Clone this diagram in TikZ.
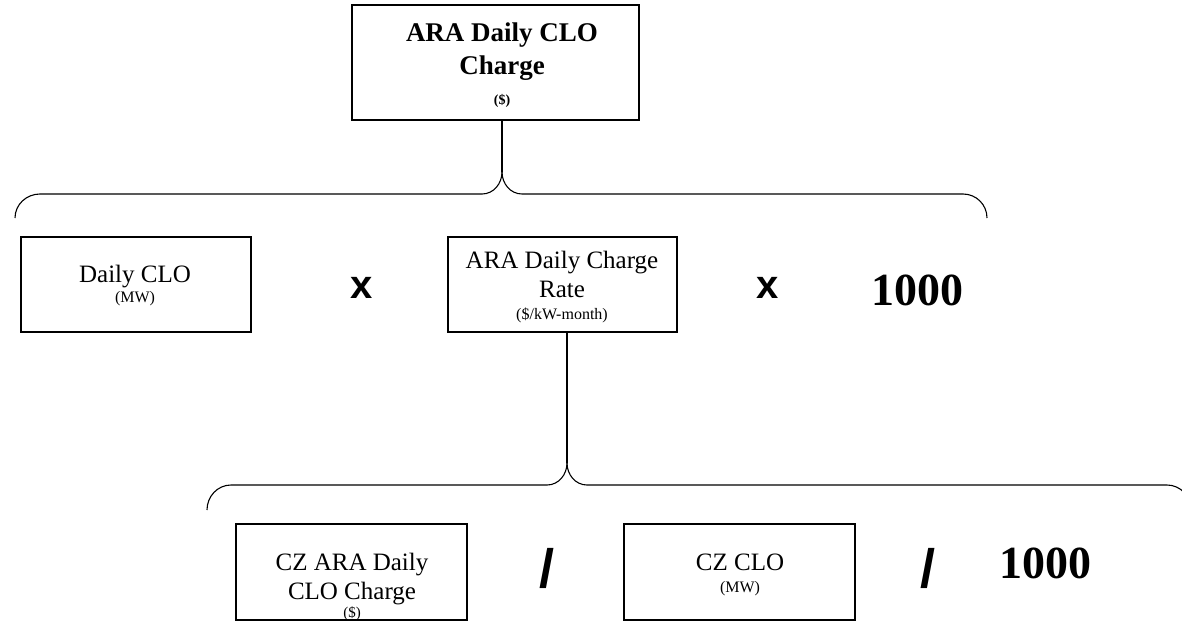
\documentclass[tikz,border=0pt]{standalone}
\usepackage{fontspec}
\setmainfont{Liberation Serif}
\newfontfamily\opfont{Liberation Sans}
\begin{document}
\begin{tikzpicture}[x=1pt,y=-1pt,
  box/.style={draw=black, line width=1.1pt, inner sep=0pt},
  txt/.style={align=center, inner sep=0pt, font=\fontsize{25}{29}\selectfont},
  ttl/.style={align=center, inner sep=0pt, font=\fontsize{27}{33}\selectfont\bfseries},
  opx/.style={inner sep=0pt, font=\fontsize{40}{42}\selectfont\opfont\bfseries},
  ops/.style={inner sep=0pt, font=\fontsize{54}{56}\selectfont\opfont\bfseries},
  big/.style={inner sep=0pt, font=\fontsize{46}{50}\selectfont\bfseries},
  conn/.style={line width=1.1pt}
]
\useasboundingbox (0,0) rectangle (1182,621);
% boxes
\node[box, minimum width=287pt, minimum height=115pt] (top) at (495.5,62.5) {};
\node[box, minimum width=230pt, minimum height=95pt] (daily) at (136,284.5) {};
\node[box, minimum width=229pt, minimum height=95pt] (rate) at (562.5,284.5) {};
\node[box, minimum width=231pt, minimum height=96pt] (czara) at (351.5,572) {};
\node[box, minimum width=231pt, minimum height=96pt] (czclo) at (739.5,572) {};
% texts
\node[ttl] (topT) at (502,65.5) {ARA Daily CLO\\Charge\\[-3pt]{\fontsize{14}{16}\selectfont(\$)}};
\node[txt] (dailyT) at (135,286) {Daily CLO\\[-9pt]{\fontsize{16}{18}\selectfont(MW)}};
\node[txt] (rateT) at (562,287.5) {ARA Daily Charge\\Rate\\[-7pt]{\fontsize{16}{18}\selectfont(\$/kW-month)}};
\node[txt] (czaraT) at (352,587) {CZ ARA Daily\\CLO Charge\\[-11pt]{\fontsize{15}{17}\selectfont(\$)}};
\node[txt] (czcloT) at (740,575) {CZ CLO\\[-7pt]{\fontsize{16}{18}\selectfont(MW)}};
% operators
\node[opx] (x1) at (362,288) {x};
\node[opx] (x2) at (768,288) {x};
\node[big] (k1) at (917,290) {1000};
\node[ops] (s1) at (547,568) {/};
\node[ops] (s2) at (928,568) {/};
\node[big] (k2) at (1045,563) {1000};
% brace 1
\coordinate (c1) at (502,172);
\coordinate (c1l) at (482,194);
\coordinate (c1r) at (522,194);
\coordinate (e1l) at (40,194);
\coordinate (e1r) at (963,194);
\coordinate (f1l) at (15,218);
\coordinate (f1r) at (987,218);
\draw[conn] (top.south -| c1) -- (c1);
\draw[conn] (c1) to[out=-90,in=0] (c1l) -- (e1l) to[out=180,in=90] (f1l);
\draw[conn] (c1) to[out=-90,in=180] (c1r) -- (e1r) to[out=0,in=90] (f1r);
% brace 2
\coordinate (c2) at (567,463);
\coordinate (c2l) at (547,485);
\coordinate (c2r) at (587,485);
\coordinate (e2l) at (231,485);
\coordinate (e2r) at (1167,485);
\coordinate (f2l) at (207,510);
\coordinate (f2r) at (1191,510);
\draw[conn] (rate.south -| c2) -- (c2);
\draw[conn] (c2) to[out=-90,in=0] (c2l) -- (e2l) to[out=180,in=90] (f2l);
\draw[conn] (c2) to[out=-90,in=180] (c2r) -- (e2r) to[out=0,in=90] (f2r);
\end{tikzpicture}
\end{document}
